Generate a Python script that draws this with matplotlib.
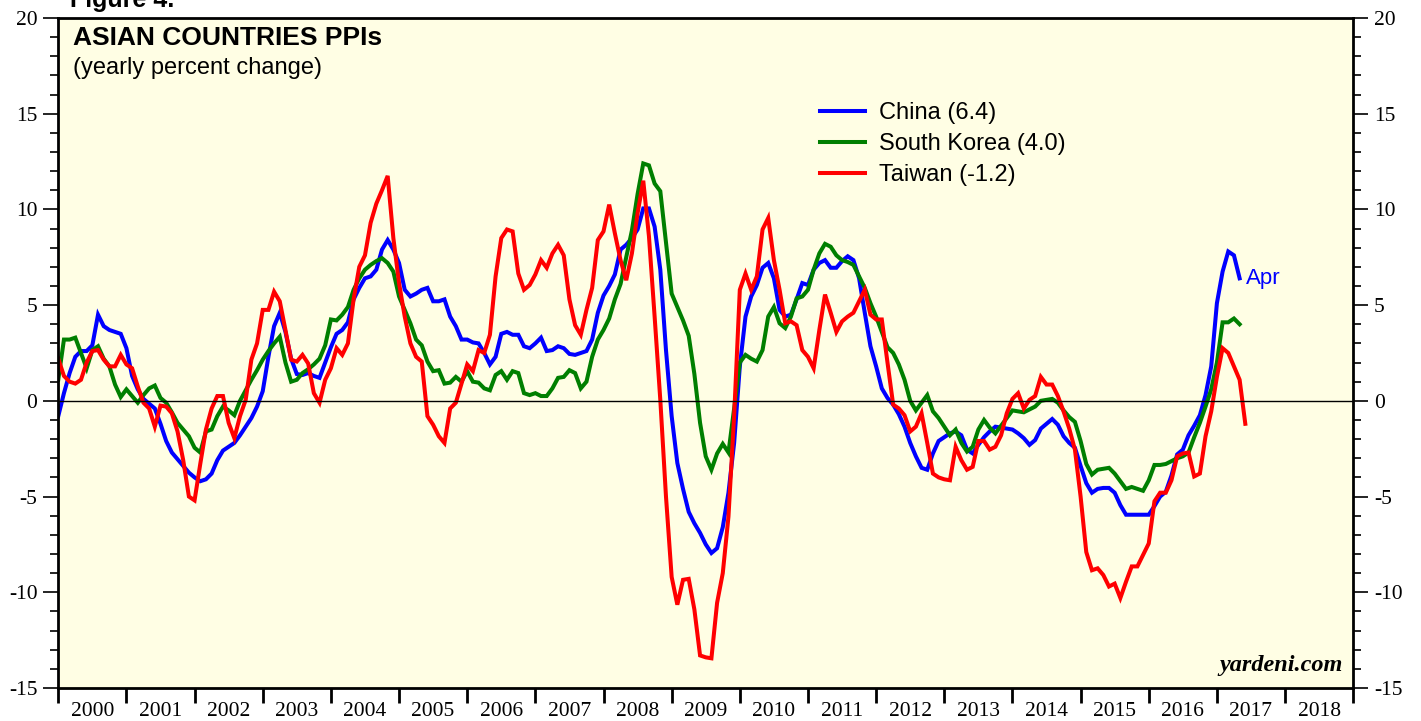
import numpy as np
import matplotlib
matplotlib.use('Agg')
import matplotlib.pyplot as plt
from matplotlib.ticker import MultipleLocator

plt.rcParams['axes.unicode_minus'] = False

# yearly percent change, monthly, first value is Dec 1999 (plotted at month end)
china = [-0.8, 0.4, 1.45, 2.3, 2.6, 2.6, 2.9, 4.5, 3.9, 3.7, 3.6, 3.5,
         2.75, 1.3, 0.6, 0.1, -0.15, -0.4, -1.2, -2.1, -2.7, -3.05, -3.4, -3.75,
         -4.0, -4.2, -4.1, -3.8, -3.1, -2.6, -2.4, -2.2, -1.8, -1.35, -0.9, -0.3,
         0.5, 2.3, 3.9, 4.6, 3.6, 2.2, 1.4, 1.35, 1.45, 1.3, 1.2, 2.0,
         2.8, 3.5, 3.7, 4.1, 5.3, 5.9, 6.4, 6.5, 6.85, 7.9, 8.4, 7.9,
         7.2, 5.8, 5.45, 5.6, 5.8, 5.9, 5.2, 5.2, 5.3, 4.4, 3.9, 3.2,
         3.2, 3.05, 3.0, 2.5, 1.9, 2.3, 3.5, 3.6, 3.45, 3.45, 2.85, 2.75,
         3.0, 3.3, 2.6, 2.65, 2.85, 2.75, 2.45, 2.4, 2.5, 2.6, 3.2, 4.6,
         5.5, 6.0, 6.6, 7.9, 8.15, 8.5, 8.95, 10.05, 10.05, 9.1, 6.85, 2.65,
         -0.8, -3.25, -4.6, -5.8, -6.4, -6.9, -7.5, -7.95, -7.7, -6.6, -4.8, -2.2,
         1.8, 4.4, 5.45, 6.05, 6.95, 7.2, 6.4, 4.75, 4.4, 4.5, 5.3, 6.15,
         6.05, 6.85, 7.2, 7.35, 6.95, 6.95, 7.3, 7.55, 7.35, 6.4, 4.6, 2.85,
         1.8, 0.65, 0.15, -0.2, -0.7, -1.35, -2.2, -2.9, -3.5, -3.6, -2.75, -2.1,
         -1.9, -1.7, -1.6, -1.8, -2.55, -2.75, -2.3, -1.9, -1.6, -1.35, -1.4, -1.45,
         -1.5, -1.7, -1.95, -2.3, -2.05, -1.45, -1.2, -0.95, -1.25, -1.85, -2.2, -2.45,
         -3.4, -4.3, -4.8, -4.6, -4.55, -4.55, -4.8, -5.45, -5.95, -5.95, -5.95, -5.95,
         -5.95, -5.5, -5.0, -4.75, -3.9, -2.8, -2.55, -1.8, -1.3, -0.75, 0.3, 1.8,
         5.1, 6.75, 7.8, 7.6, 6.4]

korea = [1.1, 3.2, 3.2, 3.3, 2.5, 1.7, 2.65, 2.85, 2.2, 1.8, 0.85, 0.2,
         0.6, 0.25, -0.1, 0.3, 0.65, 0.8, 0.15, -0.1, -0.6, -1.15, -1.5, -1.85,
         -2.45, -2.7, -1.6, -1.5, -0.8, -0.3, -0.5, -0.75, 0.0, 0.55, 1.1, 1.6,
         2.15, 2.6, 3.0, 3.35, 2.0, 1.0, 1.1, 1.45, 1.65, 1.9, 2.2, 2.9,
         4.25, 4.2, 4.5, 4.9, 5.8, 6.4, 6.85, 7.1, 7.3, 7.45, 7.2, 6.75,
         5.45, 4.75, 4.05, 3.2, 2.9, 2.05, 1.55, 1.6, 0.9, 0.95, 1.25, 1.0,
         1.55, 1.0, 0.95, 0.65, 0.55, 1.35, 1.55, 1.1, 1.55, 1.45, 0.4, 0.3,
         0.4, 0.25, 0.25, 0.65, 1.2, 1.25, 1.6, 1.45, 0.65, 1.0, 2.3, 3.2,
         3.7, 4.3, 5.3, 6.1, 7.5, 8.9, 10.8, 12.4, 12.3, 11.35, 10.95, 8.25,
         5.6, 4.9, 4.2, 3.4, 1.4, -1.15, -2.9, -3.6, -2.75, -2.25, -2.7, -0.4,
         2.0, 2.4, 2.2, 2.05, 2.65, 4.4, 4.9, 4.05, 3.8, 4.4, 5.35, 5.45,
         5.8, 6.85, 7.7, 8.2, 8.05, 7.6, 7.35, 7.25, 7.1, 6.5, 5.9, 5.1,
         4.4, 3.6, 2.8, 2.5, 1.9, 1.1, 0.0, -0.5, -0.1, 0.3, -0.55, -0.9,
         -1.35, -1.8, -1.5, -2.2, -2.65, -2.4, -1.5, -1.0, -1.4, -1.7, -1.3, -0.9,
         -0.5, -0.55, -0.6, -0.45, -0.3, 0.0, 0.05, 0.1, -0.1, -0.5, -0.85, -1.1,
         -2.1, -3.3, -3.85, -3.6, -3.55, -3.5, -3.8, -4.2, -4.6, -4.5, -4.6, -4.7,
         -4.15, -3.35, -3.35, -3.3, -3.15, -3.0, -2.9, -2.7, -1.9, -1.15, -0.3, 0.6,
         2.0, 4.1, 4.1, 4.3, 4.0]

taiwan = [2.2, 1.3, 1.0, 0.9, 1.1, 2.0, 2.6, 2.65, 2.15, 1.8, 1.8, 2.4,
          1.9, 1.7, 0.75, -0.1, -0.4, -1.35, -0.25, -0.3, -0.65, -1.6, -3.1, -5.0,
          -5.2, -3.3, -1.5, -0.4, 0.25, 0.25, -1.15, -1.95, -0.8, 0.05, 2.15, 3.0,
          4.75, 4.75, 5.7, 5.2, 3.7, 2.15, 2.05, 2.4, 1.95, 0.4, -0.1, 1.1,
          1.7, 2.75, 2.4, 3.0, 5.3, 7.0, 7.6, 9.3, 10.3, 11.0, 11.75, 8.5,
          6.15, 4.4, 3.0, 2.3, 2.05, -0.8, -1.25, -1.85, -2.2, -0.4, -0.1, 0.9,
          1.9, 1.55, 2.65, 2.5, 3.45, 6.5, 8.5, 8.95, 8.85, 6.65, 5.8, 6.05,
          6.6, 7.35, 6.95, 7.7, 8.15, 7.6, 5.3, 3.95, 3.45, 4.75, 5.9, 8.4,
          8.85, 10.25, 8.75, 7.35, 6.3, 7.7, 9.8, 11.5, 8.6, 4.4, 0.05, -5.0,
          -9.2, -10.65, -9.35, -9.3, -10.9, -13.3, -13.4, -13.45, -10.55, -9.0, -6.05, -0.8,
          5.8, 6.65, 5.8, 6.5, 8.95, 9.55, 7.35, 5.8, 4.05, 4.15, 3.95, 2.65,
          2.3, 1.7, 3.7, 5.55, 4.6, 3.6, 4.15, 4.4, 4.6, 5.2, 5.8, 4.5,
          4.25, 4.25, 2.0, -0.2, -0.4, -0.75, -1.6, -1.35, -0.65, -2.2, -3.8, -4.0,
          -4.1, -4.15, -2.4, -3.1, -3.6, -3.45, -2.1, -2.1, -2.55, -2.4, -1.8, -0.65,
          0.1, 0.4, -0.4, 0.05, 0.25, 1.25, 0.85, 0.85, 0.25, -0.55, -1.45, -2.55,
          -5.0, -7.9, -8.85, -8.75, -9.1, -9.7, -9.55, -10.3, -9.45, -8.65, -8.65, -8.05,
          -7.45, -5.25, -4.8, -4.8, -4.15, -2.9, -2.75, -2.7, -3.95, -3.8, -1.85, -0.55,
          1.25, 2.75, 2.5, 1.8, 1.1, -1.2]

years = list(range(2000, 2019))
labels = ['China (6.4)', 'South Korea (4.0)', 'Taiwan (-1.2)']
colors = ['#0000ff', '#007f00', '#ff0000']

sans = 'Liberation Sans'
serif = 'Liberation Serif'

fig = plt.figure(figsize=(14.21, 7.21), dpi=100)
ax = fig.add_axes([0.041, 0.0458, 0.9113, 0.9293])
ax.set_facecolor('#fffee4')

for vals, lab, col in zip([china, korea, taiwan], labels, colors):
    x = 2000 + np.arange(len(vals)) / 12
    ax.plot(x, vals, color=col, lw=2.9, label=lab, solid_joinstyle='miter')

ax.axhline(0, color='black', lw=1)

ax.set_xlim(2000, 2019)
ax.set_ylim(-15, 20)

ax.set_xticks(range(2000, 2020))
ax.set_xticks([y + 0.5 for y in years], minor=True)
ax.set_xticklabels(years, minor=True, fontfamily=serif, fontsize=15.5)
ax.tick_params(axis='x', which='major', direction='out', length=11, width=2,
               labelbottom=False)
ax.tick_params(axis='x', which='minor', length=0, pad=10)

ax.yaxis.set_major_locator(MultipleLocator(5))
ax.yaxis.set_minor_locator(MultipleLocator(1))
ax.tick_params(axis='y', which='both', direction='out', left=True, right=True,
               labelleft=True, labelright=True, labelsize=15.5, pad=4)
ax.tick_params(axis='y', which='major', length=11, width=1.2)
ax.tick_params(axis='y', which='minor', length=5.5, width=1.2)
for lab in ax.get_yticklabels():
    lab.set_fontfamily(serif)

for s in ax.spines.values():
    s.set_linewidth(2)

ax.text(0.0114, 0.97, 'ASIAN COUNTRIES PPIs', transform=ax.transAxes,
        fontfamily=sans, fontweight='bold', fontsize=19, va='center', ha='left')
ax.text(0.0114, 0.926, '(yearly percent change)', transform=ax.transAxes,
        fontfamily=sans, fontsize=17, va='center', ha='left')

leg = ax.legend(loc='upper left', bbox_to_anchor=(0.588, 0.874), frameon=False,
                prop={'family': sans, 'size': 17}, handlelength=1.9,
                handletextpad=0.6, labelspacing=0.38, borderpad=0, borderaxespad=0)

ax.text(2000 + (len(china) - 1) / 12 + 0.09, china[-1], 'Apr', color='#0000ff',
        fontfamily=sans, fontsize=16, va='center', ha='left')

ax.text(0.992, 0.018, 'yardeni.com', transform=ax.transAxes, fontfamily=serif,
        fontweight='bold', fontstyle='italic', fontsize=17.5, ha='right', va='bottom')

fig.text(0.049, 1 - 7 / 721, 'Figure 4.', fontfamily=sans, fontweight='bold',
         fontsize=18, va='baseline', ha='left')

fig.savefig('out.png', dpi=100, facecolor='white')
